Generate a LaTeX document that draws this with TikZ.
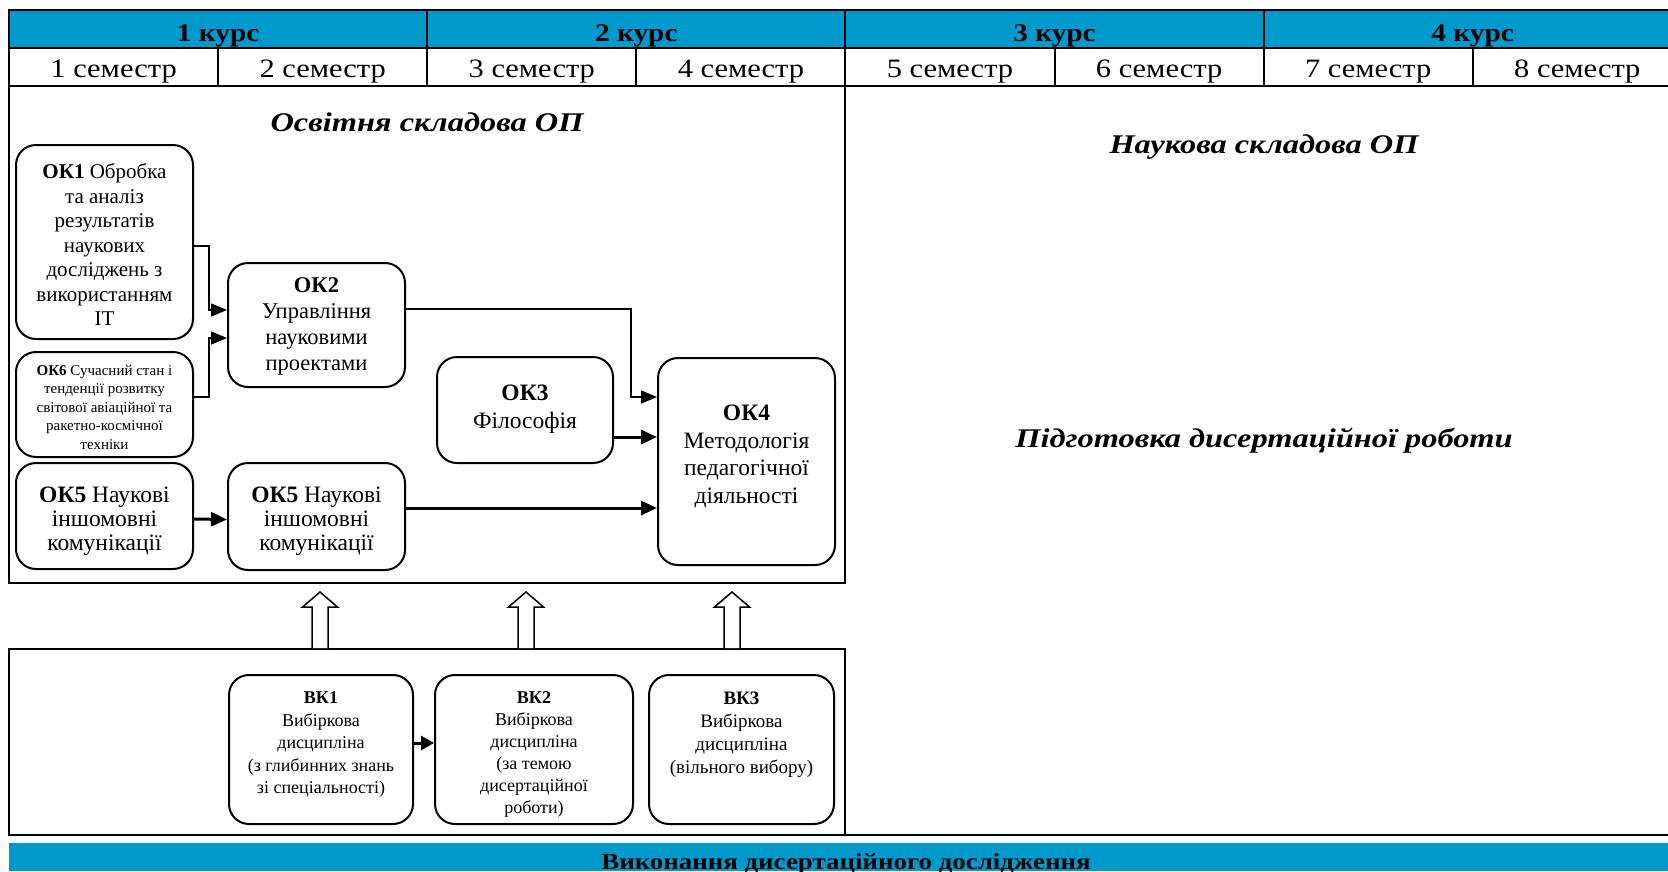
\documentclass[tikz,border=0pt]{standalone}
\usepackage{fontspec}
\setmainfont{Liberation Serif}
\newfontfamily\hdrfont[FakeStretch=1.15]{Liberation Serif}
\newfontfamily\semfont[FakeStretch=1.15]{Liberation Serif}
\newfontfamily\ttlfont[FakeStretch=1.2]{Liberation Serif}
\newfontfamily\barfont[FakeStretch=1.17]{Liberation Serif}
\usetikzlibrary{arrows.meta,calc}
\definecolor{hdrblue}{RGB}{0,153,204}
\begin{document}
\begin{tikzpicture}[x=1pt,y=-1pt,
  frame/.style={draw=black,line width=2pt},
  box/.style={draw=black,line width=2pt,rounded corners=20pt,inner sep=0pt},
  txt/.style={align=center,inner sep=0pt,anchor=north},
  crs/.style={anchor=base,inner sep=0pt,font=\hdrfont\bfseries\fontsize{25.5}{28}\selectfont},
  sem/.style={anchor=base,inner sep=0pt,font=\semfont\fontsize{26.5}{30}\selectfont},
  ttl/.style={anchor=base,inner sep=0pt,font=\ttlfont\bfseries\itshape\fontsize{27}{31}\selectfont},
  thinarr/.style={line width=1.5pt,-{Triangle[length=16pt,width=13pt]}},
  thickarr/.style={line width=3pt,-{Triangle[length=16pt,width=14pt]}},
  hollow/.style={draw=black,line width=1.5pt,fill=white,line join=miter}
]
\useasboundingbox (0,0) rectangle (1668,871);
\fill[white] (0,0) rectangle (1668,871);

% header
\fill[hdrblue] (9,10) rectangle (1668,48);
\draw[frame] (1668,10) -- (9,10) -- (9,86) -- (1668,86);
\draw[frame] (9,48) -- (1668,48);
\foreach \xx in {427.2,845.4,1263.6} \draw[frame] (\xx,10) -- (\xx,86);
\foreach \xx in {218.1,636.3,1054.5,1472.7} \draw[frame] (\xx,48) -- (\xx,86);

\node[crs] (k1) at (218.1,41) {1 курс};
\node[crs] (k2) at (636.3,41) {2 курс};
\node[crs] (k3) at (1054.5,41) {3 курс};
\node[crs] (k4) at (1472.7,41) {4 курс};
\node[sem] (s1) at (113.6,77) {1 семестр};
\node[sem] (s2) at (322.7,77) {2 семестр};
\node[sem] (s3) at (531.8,77) {3 семестр};
\node[sem] (s4) at (740.9,77) {4 семестр};
\node[sem] (s5) at (950.0,77) {5 семестр};
\node[sem] (s6) at (1159.1,77) {6 семестр};
\node[sem] (s7) at (1368.2,77) {7 семестр};
\node[sem] (s8) at (1577.3,77) {8 семестр};

% main frames
\draw[frame] (9,86) rectangle (845.4,583);
\draw[frame] (9,649) rectangle (845.4,835);
\draw[frame] (845.4,835) -- (1668,835);
\fill[hdrblue] (9,843) rectangle (1668,871);

% titles
\node[ttl] (osv) at (427,131.5) {Освітня складова ОП};
\node[ttl] (nauk) at (1264,153) {Наукова складова ОП};
\node[ttl] (pidg) at (1264,447) {Підготовка дисертаційної роботи};
\node[anchor=base,inner sep=0pt,font=\barfont\bfseries\fontsize{23}{27}\selectfont] (vykon) at (846,869) {Виконання дисертаційного дослідження};

% boxes
\node[box,minimum width=177pt,minimum height=194pt] (ok1) at (104.5,242) {};
\node[box,minimum width=177pt,minimum height=105pt] (ok6) at (104.5,404.5) {};
\node[box,minimum width=177pt,minimum height=124pt] (ok2) at (316.5,325) {};
\node[box,minimum width=176pt,minimum height=106pt] (ok3) at (525,410) {};
\node[box,minimum width=177pt,minimum height=207pt] (ok4) at (746.5,461.5) {};
\node[box,minimum width=177pt,minimum height=106pt] (ok5a) at (104.5,516) {};
\node[box,minimum width=177pt,minimum height=107pt] (ok5b) at (316.5,516.5) {};
\node[box,minimum width=184pt,minimum height=149pt] (vk1) at (321,749.5) {};
\node[box,minimum width=198pt,minimum height=149pt] (vk2) at (534,749.5) {};
\node[box,minimum width=185pt,minimum height=149pt] (vk3) at (741.5,749.5) {};

% texts
\node[txt,font=\fontsize{21}{24.5}\selectfont] (ok1t) at (104.5,163.5) {\textbf{ОК1} Обробка\\та аналіз\\результатів\\наукових\\досліджень з\\використанням\\ІТ};
\node[txt,font=\fontsize{15}{18.6}\selectfont] (ok6t) at (104.5,364.7) {\textbf{ОК6} Сучасний стан і\\тенденції розвитку\\світової авіаційної та\\ракетно-космічної\\техніки};
\node[txt,font=\fontsize{22.5}{26}\selectfont] (ok2t) at (316.5,277) {\textbf{ОК2}\\Управління\\науковими\\проектами};
\node[txt,font=\fontsize{23.5}{28.5}\selectfont] (ok3t) at (525,384.7) {\textbf{ОК3}\\Філософія};
\node[txt,font=\fontsize{23.5}{27.7}\selectfont] (ok4t) at (746.5,404.7) {\textbf{ОК4}\\Методологія\\педагогічної\\діяльності};
\node[txt,font=\fontsize{23.5}{24}\selectfont] (ok5at) at (104.5,486.8) {\textbf{ОК5} Наукові\\іншомовні\\комунікації};
\node[txt,font=\fontsize{23.5}{24}\selectfont] (ok5bt) at (316.5,486.8) {\textbf{ОК5} Наукові\\іншомовні\\комунікації};
\node[txt,font=\fontsize{18}{22.5}\selectfont] (vk1t) at (321,691.7) {\textbf{ВК1}\\Вибіркова\\дисципліна\\(з глибинних знань\\зі спеціальності)};
\node[txt,font=\fontsize{18}{22}\selectfont] (vk2t) at (534,691.7) {\textbf{ВК2}\\Вибіркова\\дисципліна\\(за темою\\дисертаційної\\роботи)};
\node[txt,font=\fontsize{19}{23.3}\selectfont] (vk3t) at (741.5,691.3) {\textbf{ВК3}\\Вибіркова\\дисципліна\\(вільного вибору)};

% connectors
\draw[thinarr] ([yshift=-4pt]ok1.east) -- ++(15,0) |- ([yshift=15pt]ok2.west);
\draw[thinarr] ([yshift=7.5pt]ok6.east) -- ++(15,0) |- ([yshift=-13pt]ok2.west);
\draw[thinarr] ([yshift=16pt]ok2.east) -| ([xshift=-26pt,yshift=64.5pt]ok4.west) -- ([yshift=64.5pt]ok4.west);
\draw[thickarr] ([yshift=-27pt]ok3.east) -- ([yshift=24.5pt]ok4.west);
\draw[thickarr] ([yshift=-3pt]ok5a.east) -- ([yshift=-3pt]ok5b.west);
\draw[thickarr] ([yshift=8.5pt]ok5b.east) -- ([yshift=-46.5pt]ok4.west);
\draw[line width=3pt,-{Triangle[length=13pt,width=14pt]}] ([yshift=6.5pt]vk1.east) -- ([yshift=6.5pt]vk2.west);

% hollow block arrows
\foreach \cx in {320,526,732}
  \draw[hollow] (\cx-8,648) -- (\cx-8,607) -- (\cx-17.5,607) -- (\cx,592) -- (\cx+17.5,607) -- (\cx+8,607) -- (\cx+8,648);
\end{tikzpicture}
\end{document}
